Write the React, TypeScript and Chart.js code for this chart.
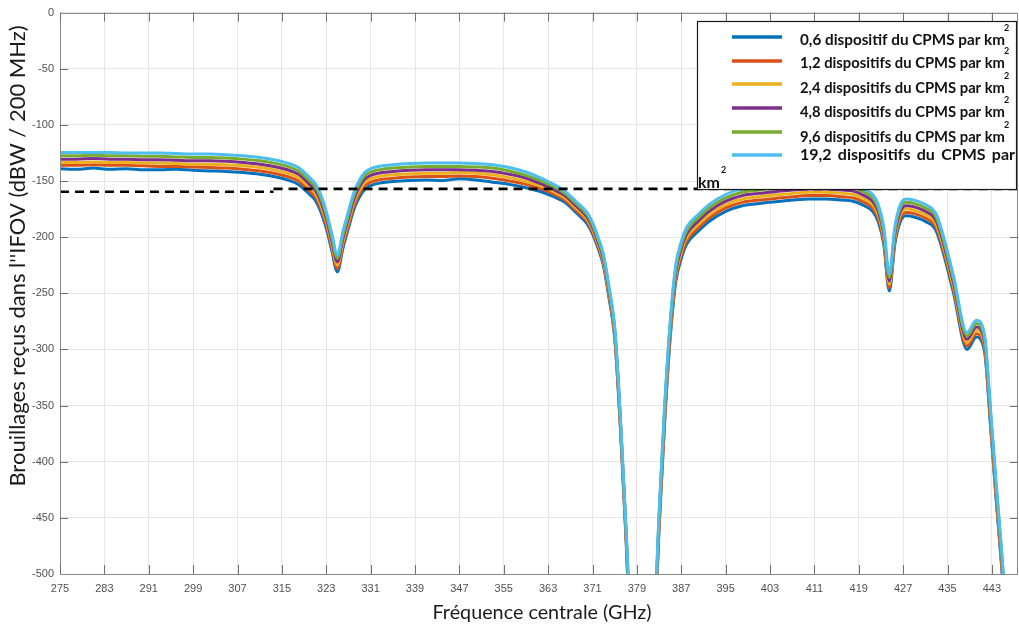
import { useEffect, useRef } from 'react';
import { Chart, registerables } from 'chart.js';

Chart.register(...registerables);

// ---- Data ----
const FREQ = [
  275, 278, 281, 284, 287, 290, 293, 296, 299, 302,
  305, 308, 311, 314, 316, 318, 320, 321, 322, 323,
  324, 325, 326, 327, 328, 329, 330, 331, 333, 335,
  338, 341, 344, 347, 350, 353, 356, 359, 362, 364,
  366, 368, 370, 371, 372, 373, 374, 375, 376, 377,
  378, 382, 383, 384, 385, 386, 387, 388, 390, 392,
  395, 398, 401, 404, 407, 410, 413, 416, 418, 420,
  421.5, 422.5, 423.5, 424.5, 425.5, 426.5, 427.5, 429, 431, 433,
  436, 438.5, 440.2, 441.7, 442.7, 443.7, 444.8, 446,
];

const S06 = [
  -139, -139.5, -138.5, -139.5, -139, -140, -140, -139.5, -140.5, -141,
  -141.5, -142.5, -144, -146.5, -149, -153, -162, -167, -177, -192,
  -212, -231, -210, -192, -175, -164, -157, -154, -151.5, -150.5,
  -149.5, -149, -149.5, -148, -149, -151, -153, -156, -160, -164,
  -169, -178, -188, -197, -210, -226, -255, -290, -368, -465,
  -560, -560, -460, -365, -290, -240, -219, -206, -195, -186,
  -177, -172, -170, -168.5, -167, -166, -166, -167, -168, -172,
  -177, -186, -206, -248, -206, -186, -181, -182, -186, -195,
  -248, -300, -289, -303, -365, -430, -497, -580,
];

const S12 = [
  -136, -136, -135.5, -136, -136, -136.5, -137, -137, -137.5, -138,
  -138.5, -139.5, -141, -143.5, -146, -150, -159, -164, -174, -189,
  -209, -228, -207, -189, -172, -161, -154, -151, -148.5, -147.5,
  -146.5, -146, -146, -145.5, -146, -147.5, -150, -153, -157.5, -161.5,
  -167, -176, -186, -195, -208, -224, -253, -288, -366, -463,
  -557, -557, -457, -362, -287, -237, -216, -203, -192, -183,
  -174, -169, -167, -165.5, -164, -163, -163, -164, -165, -169,
  -174, -183, -203, -245, -203, -183, -178, -179, -183, -192,
  -245, -297, -286, -300, -362, -427, -494, -577,
];

const S24 = [
  -133.5, -133.5, -133, -133.5, -133.5, -134, -134, -134.5, -135, -135,
  -135.5, -136.5, -138, -140.5, -143, -147, -156, -161, -171, -186,
  -206, -225, -204, -186, -169, -158, -151, -148, -145.5, -144.5,
  -143.5, -143, -143, -142.5, -143, -144.5, -147, -150.5, -155, -159.5,
  -165, -174, -184, -193, -206, -222, -251, -286, -364, -461,
  -554, -554, -454, -359, -284, -234, -213, -200, -189, -180,
  -171, -166, -164, -162.5, -161, -160, -160, -161, -162, -166,
  -171, -180, -200, -242, -200, -180, -175, -176, -180, -189,
  -242, -294, -283, -297, -359, -424, -491, -574,
];

const S48 = [
  -130.5, -130.5, -130, -130.5, -130.5, -131, -131, -131.5, -132, -132,
  -132.5, -133.5, -135, -137.5, -140, -144, -153, -158, -168, -183,
  -203, -222, -201, -183, -166, -155, -148, -145, -142.5, -141.5,
  -140.5, -140, -140, -140, -140.5, -141.5, -144, -147.5, -153, -157.5,
  -163, -172, -182, -191, -204, -220, -249, -284, -362, -459,
  -551, -551, -451, -356, -281, -231, -210, -197, -186, -177,
  -168, -163, -161, -159.5, -158, -157, -157, -158, -159, -163,
  -168, -177, -197, -239, -197, -177, -172, -173, -177, -186,
  -239, -291, -280, -294, -356, -421, -488, -571,
];

const S96 = [
  -127.5, -127.5, -127, -127.5, -127.5, -128, -128, -128.5, -129, -129,
  -129.5, -130.5, -132, -134.5, -137, -141, -150, -155, -165, -180,
  -200, -219, -198, -180, -163, -152, -145, -142, -139.5, -138.5,
  -137.5, -137, -137, -137, -137.5, -138.5, -141, -145, -150.5, -155,
  -161, -170, -180, -189, -202, -218, -247, -282, -360, -457,
  -548, -548, -448, -353, -278, -228, -207, -194, -183, -174,
  -165, -160, -158, -156.5, -155, -154, -154, -155, -156, -160,
  -165, -174, -194, -236, -194, -174, -169, -170, -174, -183,
  -236, -288, -277, -291, -353, -418, -485, -568,
];

const S192 = [
  -124.5, -124.5, -124.5, -124.5, -125, -125, -125, -125.5, -126, -126,
  -126.5, -127.5, -129, -131.5, -134, -138, -147, -152, -162, -177,
  -197, -216, -195, -177, -160, -149, -142, -139, -136.5, -135.5,
  -134.5, -134, -134, -134, -134.5, -135.5, -138, -142, -148, -153,
  -159, -168, -178, -187, -200, -216, -245, -280, -358, -455,
  -545, -545, -445, -350, -275, -225, -204, -191, -180, -171,
  -162, -157, -155, -153.5, -152, -151, -151, -152, -153, -157,
  -162, -171, -191, -233, -191, -171, -166, -167, -171, -180,
  -233, -285, -274, -288, -350, -415, -482, -565,
];

const THRESH_A_X = [275, 313.5];
const THRESH_A_Y = [-159.5, -159.5];
const THRESH_B_X = [313.5, 447.7];
const THRESH_B_Y = [-157, -157];

const X_TICKS = [275, 283, 291, 299, 307, 315, 323, 331, 339, 347, 355, 363, 371, 379, 387, 395, 403, 411, 419, 427, 435, 443];

const LEGEND_LABELS = [
  '0,6 dispositif du CPMS par km²',
  '1,2 dispositifs du CPMS par km²',
  '2,4 dispositifs du CPMS par km²',
  '4,8 dispositifs du CPMS par km²',
  '9,6 dispositifs du CPMS par km²',
  '19,2 dispositifs du CPMS par km²',
];

const COLORS = ['#0072BD', '#D95319', '#EDB120', '#7E2F8E', '#77AC30', '#4DBEEE'];

const X_TITLE = 'Fréquence centrale (GHz)';
const Y_TITLE = "Brouillages reçus dans l' 'IFOV (dBW / 200 MHz)".replace("' '", "''");

const overlayPlugin = {
  id: 'overlay',
  afterDraw(chart: any) {
    const { ctx, chartArea: a, scales } = chart;
    const xs = scales.x;
    const ys = scales.y;
    ctx.save();

    // frame
    ctx.strokeStyle = '#8a8a8a';
    ctx.lineWidth = 1;
    ctx.strokeRect(Math.round(a.left) + 0.5, Math.round(a.top) + 0.5, Math.round(a.right - a.left) - 1, Math.round(a.bottom - a.top));

    // inward ticks
    ctx.strokeStyle = '#707070';
    ctx.beginPath();
    for (const v of X_TICKS) {
      const px = Math.round(xs.getPixelForValue(v)) + 0.5;
      ctx.moveTo(px, a.bottom);
      ctx.lineTo(px, a.bottom - 9);
      ctx.moveTo(px, a.top);
      ctx.lineTo(px, a.top + 9);
    }
    for (let v = -450; v < 0; v += 50) {
      const py = Math.round(ys.getPixelForValue(v)) + 0.5;
      ctx.moveTo(a.left, py);
      ctx.lineTo(a.left + 8, py);
      ctx.moveTo(a.right, py);
      ctx.lineTo(a.right - 8, py);
    }
    ctx.stroke();

    // legend box
    const bx = 697, by = 21, bw = 319, bh = 168;
    ctx.fillStyle = '#ffffff';
    ctx.fillRect(bx, by, bw, bh);
    ctx.strokeStyle = '#1a1a1a';
    ctx.lineWidth = 1.2;
    ctx.strokeRect(bx + 0.5, by + 0.5, bw, bh);

    const lineY = [37, 61, 84, 108, 132, 155];
    const textY = [40, 63, 88, 112, 137, 155];
    ctx.lineWidth = 3.5;
    ctx.lineCap = 'butt';
    for (let i = 0; i < 6; i++) {
      ctx.strokeStyle = COLORS[i];
      ctx.beginPath();
      ctx.moveTo(732, lineY[i]);
      ctx.lineTo(782, lineY[i]);
      ctx.stroke();
    }
    ctx.fillStyle = '#111111';
    ctx.textBaseline = 'middle';
    ctx.textAlign = 'left';
    ctx.font = 'bold 16px Lato';
    for (let i = 0; i < 5; i++) {
      const txt = LEGEND_LABELS[i].replace('²', '');
      ctx.fillText(txt, 800, textY[i], 205);
    }
    // last row justified, wraps
    const words = LEGEND_LABELS[5].replace(' km²', '').split(' ');
    const widths = words.map((w) => ctx.measureText(w).width);
    const total = widths.reduce((s, w) => s + w, 0);
    const gap = (1015 - 800 - total) / (words.length - 1);
    let cx = 800;
    words.forEach((w, k) => {
      ctx.fillText(w, cx, textY[5]);
      cx += widths[k] + gap;
    });
    ctx.fillText('km', 698, 183);
    ctx.font = 'bold 9px Lato';
    for (let i = 0; i < 5; i++) {
      ctx.fillText('2', 1004, textY[i] - 12);
    }
    ctx.fillText('2', 721, 170);

    // axis titles
    ctx.fillStyle = '#1a1a1a';
    ctx.textAlign = 'center';
    ctx.textBaseline = 'middle';
    ctx.font = '19px Lato';
    let w = ctx.measureText(X_TITLE).width;
    let sz = Math.max(16, Math.min(22, 19 * 219 / w));
    ctx.font = `${sz}px Lato`;
    ctx.fillText(X_TITLE, 542, 613);

    ctx.font = '19px Lato';
    w = ctx.measureText(Y_TITLE).width;
    sz = Math.max(16, Math.min(22, 19 * 472 / w));
    ctx.font = `${sz}px Lato`;
    ctx.translate(18, 256);
    ctx.rotate(-Math.PI / 2);
    ctx.fillText(Y_TITLE, 0, 0);

    ctx.restore();
  },
};

export default function App() {
  const ref = useRef<HTMLCanvasElement>(null);

  useEffect(() => {
    document.body.style.margin = '0';
    const series = [S06, S12, S24, S48, S96, S192];
    const datasets: any[] = series.map((vals, i) => ({
      label: LEGEND_LABELS[i],
      data: FREQ.map((f, j) => ({ x: f, y: vals[j] })),
      borderColor: COLORS[i],
      backgroundColor: COLORS[i],
      borderWidth: 3,
      pointRadius: 0,
      fill: false,
      cubicInterpolationMode: 'monotone',
      order: 6 - i,
    }));
    const dashStyle = {
      borderColor: '#000000',
      borderWidth: 2.6,
      borderDash: [9, 6],
      pointRadius: 0,
      fill: false,
      order: 0,
    };
    datasets.push({
      label: 'seuil A',
      data: THRESH_A_X.map((x, j) => ({ x, y: THRESH_A_Y[j] })),
      ...dashStyle,
    });
    datasets.push({
      label: 'seuil B',
      data: THRESH_B_X.map((x, j) => ({ x, y: THRESH_B_Y[j] })),
      ...dashStyle,
    });

    const tickFont = { family: 'Liberation Sans', size: 11 };
    const chart = new Chart(ref.current as HTMLCanvasElement, {
      type: 'line',
      data: { datasets },
      options: {
        animation: false,
        responsive: false,
        devicePixelRatio: 1,
        layout: { padding: { left: 0, top: 9, right: 1, bottom: 0 } },
        plugins: { legend: { display: false }, tooltip: { enabled: false } },
        scales: {
          x: {
            type: 'linear',
            min: 275,
            max: 447.7,
            afterBuildTicks: (s: any) => {
              s.ticks = X_TICKS.map((v) => ({ value: v }));
            },
            afterFit: (s: any) => {
              s.height = 56;
            },
            grid: { color: '#e6e6e6', drawTicks: false },
            border: { display: false },
            ticks: { color: '#505050', font: tickFont, padding: 8, maxRotation: 0, autoSkip: false },
          },
          y: {
            type: 'linear',
            min: -500,
            max: 0,
            afterFit: (s: any) => {
              s.width = 60;
            },
            grid: { color: '#e6e6e6', drawTicks: false },
            border: { display: false },
            ticks: { stepSize: 50, color: '#505050', font: tickFont, padding: 6 },
          },
        },
      } as any,
      plugins: [overlayPlugin],
    });
    return () => chart.destroy();
  }, []);

  return (
    <div style={{ width: 1019, height: 630 }}>
      <canvas ref={ref} width={1019} height={630} style={{ display: 'block' }} />
    </div>
  );
}
